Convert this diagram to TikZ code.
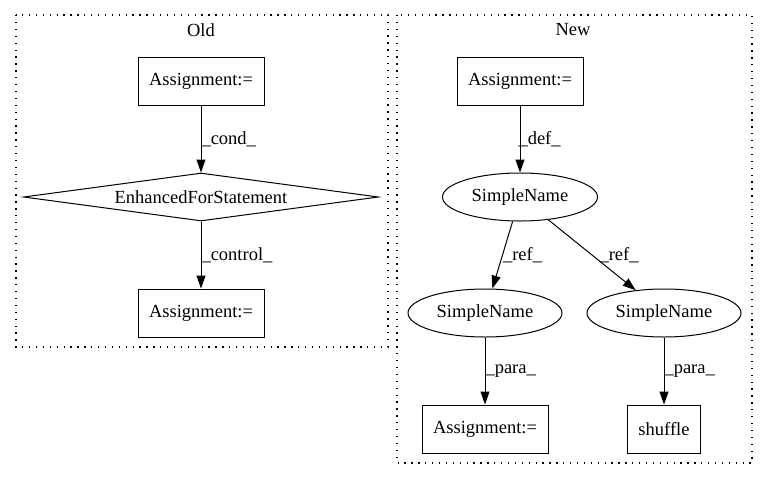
\documentclass[tikz,border=0pt]{standalone}
\usepackage{fontspec}
\setmainfont{Liberation Serif}
\usetikzlibrary{shapes.geometric,arrows.meta}
\begin{document}
\begin{tikzpicture}[x=1pt,y=-1pt,
  every node/.style={font=\fontsize{18.5}{20}\selectfont},
  box/.style={draw,line width=1pt,rectangle,inner sep=0pt,minimum height=48pt},
  ell/.style={draw,line width=1pt,ellipse,inner sep=0pt,minimum width=155pt,minimum height=48pt},
  dia/.style={draw,line width=1pt,diamond,aspect=7.4,inner sep=0pt,minimum width=355pt,minimum height=48pt},
  cluster/.style={draw,line width=1.2pt,dash pattern=on 1.3pt off 5.6pt},
  edge/.style={draw,line width=1pt,-{Triangle[length=13pt,width=9pt]}},
  elab/.style={anchor=west,inner sep=0pt,pos=0.5}]
\useasboundingbox (0,0) rectangle (768,480);
% clusters
\draw[cluster] (16,15) rectangle (388,347);
\node (oldlab) at (201,30) {Old};
\draw[cluster] (397,15) rectangle (752,463);
\node (newlab) at (573,30) {New};
% old
\node[box,minimum width=126pt] (oa1) at (201,81) {Assignment:=};
\node[dia] (oef) at (201,197) {EnhancedForStatement};
\node[box,minimum width=126pt] (oa2) at (201,313) {Assignment:=};
\draw[edge] (oa1) -- node[elab] {\_cond\_} (oef);
\draw[edge] (oef) -- node[elab] {\_control\_} (oa2);
% new
\node[box,minimum width=126pt] (na1) at (520,81) {Assignment:=};
\node[ell] (ns0) at (520,197) {SimpleName};
\node[ell,minimum width=154pt] (ns1) at (485,313) {SimpleName};
\node[ell,minimum width=154pt] (ns2) at (664,313) {SimpleName};
\node[box,minimum width=126pt] (na2) at (485,429) {Assignment:=};
\node[box,minimum width=73pt] (nsh) at (664,429) {shuffle};
\draw[edge] (na1) -- node[elab,xshift=-2pt] {\_def\_} (ns0);
\draw[edge] (ns0) -- node[elab] {\_ref\_} (ns1);
\draw[edge] (ns0) -- node[elab,xshift=7pt] {\_ref\_} (ns2);
\draw[edge] (ns1) -- node[elab] {\_para\_} (na2);
\draw[edge] (ns2) -- node[elab] {\_para\_} (nsh);
\end{tikzpicture}
\end{document}
